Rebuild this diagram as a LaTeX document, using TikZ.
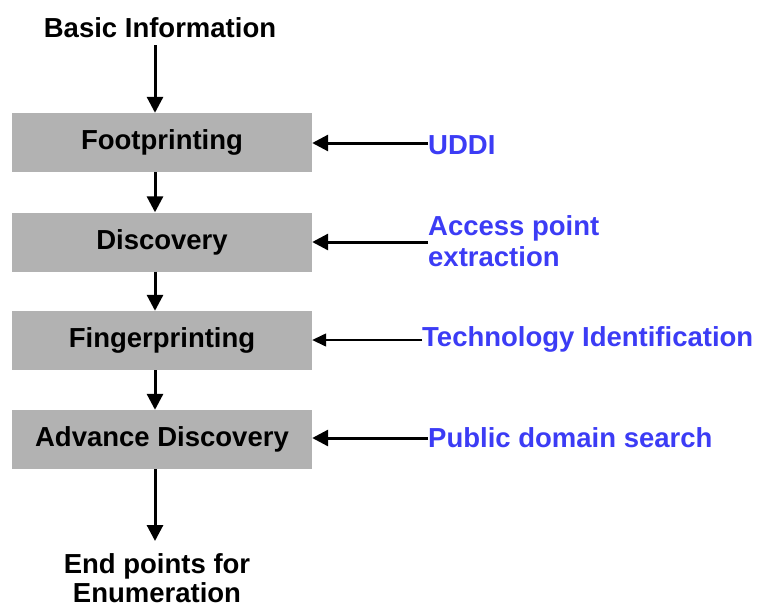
\documentclass[tikz,border=0pt]{standalone}
\usepackage{fontspec}
\setmainfont{Liberation Sans}
\usetikzlibrary{arrows.meta}
\definecolor{boxgray}{RGB}{178,178,178}
\definecolor{lblue}{RGB}{60,60,245}
\begin{document}
\begin{tikzpicture}[x=1pt,y=-1pt,
  lbl/.style={font=\fontsize{27.5}{31}\selectfont\bfseries, inner sep=0pt},
  stepbox/.style={lbl, fill=boxgray, minimum width=300pt, minimum height=59pt},
  bluelbl/.style={lbl, text=lblue, anchor=west, align=left},
  arr/.style={line width=3pt, -{Triangle[length=16pt,width=16pt]}},
  thinarr/.style={line width=1.4pt, -{Triangle[length=14pt,width=13pt]}}]
\useasboundingbox (0,0) rectangle (763,606);
\node[lbl] (basic) at (160,28) {Basic Information};
\node[stepbox] (fp) at (162,142.5) {Footprinting};
\node[stepbox] (disc) at (162,242) {Discovery};
\node[stepbox] (fing) at (162,340.5) {Fingerprinting};
\node[stepbox] (adv) at (162,439.5) {Advance Discovery};
\node[lbl, anchor=base] (end1) at (157,573) {End points for};
\node[lbl, anchor=base] (end2) at (157,602) {Enumeration};
\coordinate (c0) at (155,45);
\coordinate (c5) at (155,541);
\draw[arr] (c0) -- (c0 |- fp.north);
\draw[arr] (c0 |- fp.south) -- (c0 |- disc.north);
\draw[arr] (c0 |- disc.south) -- (c0 |- fing.north);
\draw[arr] (c0 |- fing.south) -- (c0 |- adv.north);
\draw[arr] (c0 |- adv.south) -- (c5);
\node[bluelbl] (uddi) at (428,145) {UDDI};
\node[bluelbl] (acc) at (428,241) {Access point\\extraction};
\node[bluelbl] (tech) at (422,339) {Technology Identification};
\node[bluelbl] (pub) at (428,438) {Public domain search};
\draw[arr] (uddi.west |- 0,143) -- (fp.east |- 0,143);
\draw[arr] (acc.west |- 0,242) -- (disc.east |- 0,242);
\draw[thinarr] (tech.west |- 0,340) -- (fing.east |- 0,340);
\draw[arr] (pub.west |- 0,438) -- (adv.east |- 0,438);
\end{tikzpicture}
\end{document}
